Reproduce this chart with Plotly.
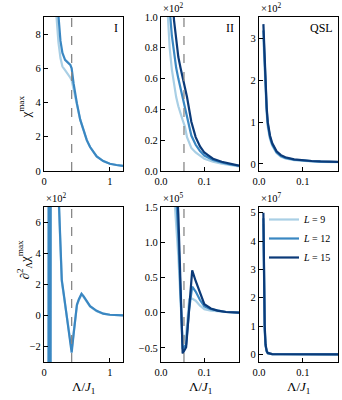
import plotly.graph_objects as go
from plotly.subplots import make_subplots

# colours for the three system sizes
C9, C12, C15 = "#a9cfe5", "#3a87c2", "#0b3a78"
FONT = "Liberation Serif, DejaVu Serif, serif"

lambda_c1 = 0.42
lambda_c2 = 0.053

# panel I: chi max (plain units)
x_I = [0.18, 0.2, 0.22, 0.25, 0.28, 0.32, 0.36, 0.4, 0.42, 0.45, 0.5, 0.55, 0.6,
       0.65, 0.7, 0.8, 0.9, 1.0, 1.1, 1.2]
chi_I_L9 = [9.5, 8.5, 7.5, 6.6, 6.1, 5.9, 5.7, 5.45, 5.3, 4.8, 3.95, 3.0, 2.4,
            1.8, 1.4, 0.85, 0.58, 0.42, 0.35, 0.3]
chi_I_L12 = [11.0, 10.0, 9.0, 7.6, 6.9, 6.5, 6.35, 6.2, 6.0, 5.1, 3.95, 3.0, 2.4,
             1.8, 1.4, 0.85, 0.58, 0.42, 0.35, 0.3]

# panel II: chi max (x10^2)
x_II = [0.015, 0.02, 0.025, 0.03, 0.035, 0.04, 0.045, 0.05, 0.055, 0.06, 0.07,
        0.08, 0.09, 0.1, 0.11, 0.12, 0.14, 0.16, 0.18]
chi_II_L9 = [1.05, 0.8, 0.66, 0.56, 0.48, 0.42, 0.37, 0.33, 0.29, 0.22, 0.15,
             0.12, 0.1, 0.08, 0.07, 0.06, 0.048, 0.038, 0.03]
chi_II_L12 = [1.5, 1.05, 0.88, 0.76, 0.67, 0.6, 0.54, 0.48, 0.43, 0.36, 0.23,
              0.17, 0.13, 0.1, 0.085, 0.072, 0.055, 0.042, 0.034]
chi_II_L15 = [2.0, 1.5, 1.18, 0.98, 0.84, 0.74, 0.67, 0.61, 0.56, 0.48, 0.32,
              0.22, 0.16, 0.12, 0.1, 0.08, 0.06, 0.045, 0.035]

# QSL: chi max (x10^2)
x_Q = [0.01, 0.0125, 0.015, 0.0175, 0.02, 0.025, 0.03, 0.035, 0.04, 0.05, 0.06,
       0.08, 0.1, 0.12, 0.14, 0.16, 0.18]
chi_Q_L9 = [3.0, 2.25, 1.65, 1.2, 0.88, 0.6, 0.44, 0.33, 0.26, 0.17, 0.13, 0.09,
            0.07, 0.06, 0.05, 0.045, 0.04]
chi_Q_L12 = [3.2, 2.45, 1.8, 1.3, 0.95, 0.64, 0.47, 0.36, 0.28, 0.19, 0.145, 0.1,
             0.078, 0.065, 0.056, 0.05, 0.046]
chi_Q_L15 = [3.35, 2.6, 1.9, 1.35, 1.0, 0.68, 0.5, 0.38, 0.3, 0.21, 0.16, 0.11,
             0.085, 0.07, 0.06, 0.055, 0.05]

# second derivative, panel I (x10^2)
x_dI = [0.0625, 0.0775, 0.0925, 0.1075, 0.15, 0.2, 0.225, 0.25, 0.27, 0.3, 0.35,
        0.4, 0.42, 0.45, 0.5, 0.53, 0.57, 0.6, 0.65, 0.7, 0.8, 0.9, 1.0, 1.1, 1.2]
d2_I_L9 = [-55, 55, -55, 55, 24, 10.5, 7.2, 4.4, 2.2, 1.3, -0.2, -1.7, -2.2, -1.1,
           0.65, 1.0, 1.35, 1.2, 0.85, 0.58, 0.28, 0.12, 0.05, 0.02, 0.01]
d2_I_L12 = [-60, 60, -60, 60, 25, 11, 7.5, 4.6, 2.3, 1.4, -0.2, -1.8, -2.4, -1.2,
            0.7, 1.05, 1.4, 1.25, 0.9, 0.6, 0.3, 0.12, 0.05, 0.02, 0.01]

# second derivative, panel II (x10^5)
x_dII = [0.02, 0.03, 0.04, 0.05, 0.058, 0.065, 0.072, 0.08, 0.09, 0.1, 0.115,
         0.13, 0.15, 0.18]
d2_II_L9 = [3.2, 1.7, 0.8, -0.42, -0.3, 0.19, 0.2, 0.17, 0.1, 0.05, 0.03, 0.02,
            0.01, 0.0]
d2_II_L12 = [4.0, 2.2, 1.1, -0.52, -0.45, 0.05, 0.37, 0.3, 0.18, 0.09, 0.05,
             0.03, 0.01, 0.0]
d2_II_L15 = [4.5, 2.6, 1.4, -0.58, -0.49, 0.1, 0.6, 0.45, 0.28, 0.12, 0.06,
             0.03, 0.01, 0.0]

# second derivative, QSL (x10^7)
x_dQ = [0.01, 0.0115, 0.013, 0.015, 0.0175, 0.02, 0.025, 0.03, 0.05, 0.1, 0.18]
d2_Q_L9 = [4.6, 2.2, 0.8, 0.28, 0.1, 0.04, 0.02, 0.01, 0.003, 0.001, 0.0]
d2_Q_L12 = [4.8, 2.4, 0.9, 0.3, 0.1, 0.04, 0.02, 0.01, 0.003, 0.001, 0.0]
d2_Q_L15 = [5.0, 2.6, 1.0, 0.35, 0.12, 0.05, 0.02, 0.01, 0.003, 0.001, 0.0]

fig = make_subplots(rows=2, cols=3)


def add_curve(x, y, color, name, row, col, legend=False):
    fig.add_trace(go.Scatter(x=x, y=y, mode="lines", name=name,
                             line=dict(color=color, width=2.2),
                             showlegend=legend),
                  row=row, col=col)


add_curve(x_I, chi_I_L9, C9, "L9", 1, 1)
add_curve(x_I, chi_I_L12, C12, "L12", 1, 1)
add_curve(x_II, chi_II_L9, C9, "L9", 1, 2)
add_curve(x_II, chi_II_L12, C12, "L12", 1, 2)
add_curve(x_II, chi_II_L15, C15, "L15", 1, 2)
add_curve(x_Q, chi_Q_L9, C9, "L9", 1, 3)
add_curve(x_Q, chi_Q_L12, C12, "L12", 1, 3)
add_curve(x_Q, chi_Q_L15, C15, "L15", 1, 3)
add_curve(x_dI, d2_I_L9, C9, "L9", 2, 1)
add_curve(x_dI, d2_I_L12, C12, "L12", 2, 1)
add_curve(x_dII, d2_II_L9, C9, "L9", 2, 2)
add_curve(x_dII, d2_II_L12, C12, "L12", 2, 2)
add_curve(x_dII, d2_II_L15, C15, "L15", 2, 2)
add_curve(x_dQ, d2_Q_L9, C9, "<i>L</i> = 9", 2, 3, legend=True)
add_curve(x_dQ, d2_Q_L12, C12, "<i>L</i> = 12", 2, 3, legend=True)
add_curve(x_dQ, d2_Q_L15, C15, "<i>L</i> = 15", 2, 3, legend=True)

for r in (1, 2):
    fig.add_vline(x=lambda_c1, row=r, col=1, line=dict(color="#888", width=1.3, dash="dash"))
    fig.add_vline(x=lambda_c2, row=r, col=2, line=dict(color="#888", width=1.3, dash="dash"))

W, H = 342, 400
cols_px = [(44, 123), (161, 239), (259, 338)]
rows_px = [(17, 171), (207, 362)]

axis_style = dict(showline=True, mirror=True, linecolor="black", linewidth=1.2,
                  ticks="inside", ticklen=4, tickwidth=1, tickcolor="black",
                  showgrid=False, zeroline=False, automargin=False,
                  tickfont=dict(family=FONT, size=10.5, color="black"))

xranges = [[0, 1.2], [0, 0.18], [0, 0.18]]
xdticks = [1, 0.1, 0.1]
xfmts = ["d", ".1f", ".1f"]
yranges = [[[0, 9], [0, 1.0], [-0.17, 3.52]],
           [[-3, 7], [-0.7, 1.5], [-0.27, 5.2]]]
ydticks = [[2, 0.2, 1], [2, 0.5, 1]]
yfmts = [["d", ".1f", "d"], ["d", ".1f", "d"]]

for r in range(2):
    for c in range(3):
        x0, x1 = cols_px[c]
        t, b = rows_px[r]
        fig.update_xaxes(domain=[x0 / W, x1 / W], range=xranges[c], dtick=xdticks[c],
                         tick0=0, tickformat=xfmts[c], row=r + 1, col=c + 1, **axis_style)
        fig.update_yaxes(domain=[1 - b / H, 1 - t / H], range=yranges[r][c],
                         dtick=ydticks[r][c], tick0=0, tickformat=yfmts[r][c],
                         row=r + 1, col=c + 1, **axis_style)

TXT = dict(family=FONT, color="black")
ann = []
# offset exponents
for (r, c, txt) in [(0, 1, "×10<sup>2</sup>"), (0, 2, "×10<sup>2</sup>"),
                    (1, 0, "×10<sup>2</sup>"), (1, 1, "×10<sup>5</sup>"),
                    (1, 2, "×10<sup>7</sup>")]:
    ann.append(dict(x=cols_px[c][0] / W, y=1 - rows_px[r][0] / H + 0.002, xref="paper",
                    yref="paper", xanchor="left", yanchor="bottom", text=txt,
                    showarrow=False, font=dict(size=10.5, **TXT)))
# panel labels
for c, txt in enumerate(["I", "II", "QSL"]):
    ann.append(dict(x=(cols_px[c][1] - 3) / W, y=1 - (rows_px[0][0] + 2) / H,
                    xref="paper", yref="paper", xanchor="right", yanchor="top",
                    text=txt, showarrow=False, font=dict(size=12, **TXT)))
# axis titles
for c in range(3):
    ann.append(dict(x=(cols_px[c][0] + cols_px[c][1]) / 2 / W, y=1 - 398 / H,
                    xref="paper", yref="paper", xanchor="center", yanchor="bottom",
                    text="Λ/<i>J</i><sub>1</sub>", showarrow=False,
                    font=dict(size=13, **TXT)))
ann.append(dict(x=14 / W, y=1 - 94 / H, xref="paper", yref="paper",
                text="χ<sup>max</sup>", textangle=-90, showarrow=False,
                font=dict(size=13, **TXT)))
ann.append(dict(x=13 / W, y=1 - 282 / H, xref="paper", yref="paper",
                text="∂<sup>2</sup><sub>Λ</sub>χ<sup>max</sup>", textangle=-90,
                showarrow=False, font=dict(size=13, **TXT)))

fig.update_layout(
    width=W, height=H, margin=dict(l=0, r=0, t=0, b=0, pad=0),
    paper_bgcolor="white", plot_bgcolor="white",
    font=dict(family=FONT, color="black"),
    annotations=ann,
    legend=dict(x=264 / W, y=1 - 205 / H, xanchor="left", yanchor="top",
                bgcolor="rgba(0,0,0,0)", font=dict(family=FONT, size=10),
                itemwidth=30, tracegroupgap=0),
)

fig.write_html("out.html", config={"displayModeBar": False},
               post_script="document.body.style.margin='0';"
                           "document.body.style.overflow='hidden';")
